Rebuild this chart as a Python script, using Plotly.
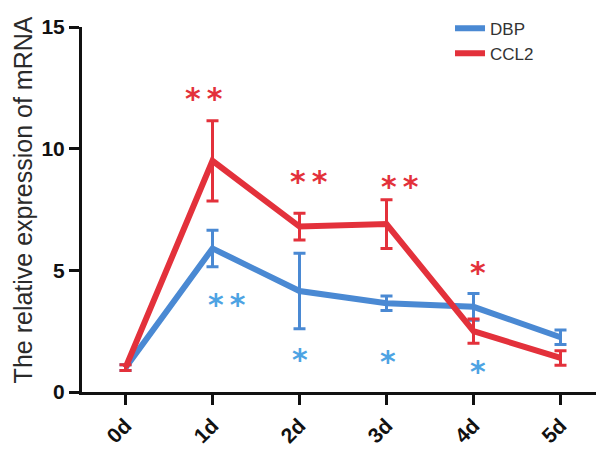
import plotly.graph_objects as go

days = ["0d", "1d", "2d", "3d", "4d", "5d"]
dbp_mean = [1.0, 5.9, 4.15, 3.65, 3.5, 2.25]
dbp_err = [0.12, 0.75, 1.55, 0.3, 0.55, 0.3]
ccl2_mean = [1.0, 9.5, 6.8, 6.9, 2.5, 1.4]
ccl2_err = [0.12, 1.65, 0.55, 1.0, 0.5, 0.3]

# significance marks: (x in category units, y value, text)
sig_red = [(0.9, 12.3, "*\u2009*"), (2.11, 8.9, "*\u2009*"), (3.15, 8.7, "*\u2009*"), (4.05, 5.15, "*")]
sig_blue = [(1.17, 3.85, "*\u2009*"), (2.0, 1.6, "*"), (3.02, 1.52, "*"), (4.05, 1.1, "*")]

y_title = "The relative expression of mRNA"

BLUE = "#4a89d3"
RED = "#e3313b"
BLUE_STAR = "#4da3e3"

fig = go.Figure()
fig.add_trace(go.Scatter(
    x=days, y=dbp_mean, name="DBP", mode="lines",
    line=dict(color=BLUE, width=6),
    error_y=dict(type="data", array=dbp_err, color=BLUE, thickness=3, width=6),
))
fig.add_trace(go.Scatter(
    x=days, y=ccl2_mean, name="CCL2", mode="lines",
    line=dict(color=RED, width=6),
    error_y=dict(type="data", array=ccl2_err, color=RED, thickness=3, width=6),
))

annotations = []
for xv, yv, t in sig_red:
    annotations.append(dict(x=xv, y=yv, text=t, showarrow=False, xref="x", yref="y",
                            font=dict(family="DejaVu Sans", size=30, color=RED, weight="bold"),
                            yanchor="middle", yshift=-6))
for xv, yv, t in sig_blue:
    annotations.append(dict(x=xv, y=yv, text=t, showarrow=False, xref="x", yref="y",
                            font=dict(family="DejaVu Sans", size=30, color=BLUE_STAR, weight="bold"),
                            yanchor="middle", yshift=-6))
annotations.append(dict(x=0, y=0.525, xref="paper", yref="paper", text=y_title,
                        showarrow=False, textangle=-90, xanchor="center", yanchor="middle",
                        xshift=-59,
                        font=dict(family="Liberation Sans", size=25, color="#2a2a2a")))

fig.update_layout(
    width=596, height=448,
    margin=dict(l=74, r=0, t=19, b=64, autoexpand=False),
    plot_bgcolor="white", paper_bgcolor="white",
    showlegend=True,
    legend=dict(x=0.705, y=1.045, xanchor="left", yanchor="top", itemwidth=30,
                font=dict(family="Liberation Sans", size=17, color="#333333"),
                bgcolor="rgba(0,0,0,0)"),
    annotations=annotations,
    font=dict(family="Liberation Sans", color="#222222"),
)
fig.update_xaxes(
    type="category", range=[-0.5, 5.5],
    showline=True, linecolor="#111111", linewidth=3,
    ticks="outside", ticklen=10, tickwidth=3, tickcolor="#111111",
    tickangle=-45, showgrid=False, zeroline=False,
    tickfont=dict(family="Liberation Sans", size=21, color="#111111", weight="bold"),
)
fig.update_yaxes(
    range=[0, 15], tickvals=[0, 5, 10, 15],
    showline=True, linecolor="#111111", linewidth=3,
    ticks="outside", ticklen=10, tickwidth=3, tickcolor="#111111",
    showgrid=False, zeroline=False,
    tickfont=dict(family="Liberation Sans", size=21, color="#111111", weight="bold"),
)

fig.write_html("out.html")
